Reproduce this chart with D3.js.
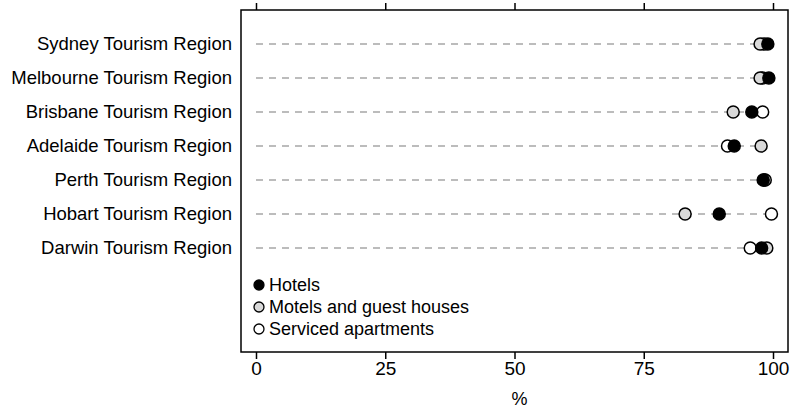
<!DOCTYPE html>
<html><head><meta charset="utf-8">
<script src="https://cdn.jsdelivr.net/npm/d3@7"></script>
<style>body{margin:0;background:#fff}svg{display:block}text{font-family:"Liberation Sans",Arial,sans-serif;fill:#000}</style>
</head><body><svg id="c" width="796" height="410"></svg>
<script>
const regions = ["Sydney Tourism Region","Melbourne Tourism Region","Brisbane Tourism Region","Adelaide Tourism Region","Perth Tourism Region","Hobart Tourism Region","Darwin Tourism Region"];
const hotels = [99.0, 99.2, 95.9, 92.5, 98.1, 89.6, 97.8];
const motels = [97.5, 97.5, 92.3, 97.7, 98.5, 83.0, 98.8];
const serviced = [98.3, 98.0, 98.0, 91.2, 98.3, 99.7, 95.6];
const xTicks = [0, 25, 50, 75, 100];
const seriesNames = ["Hotels","Motels and guest houses","Serviced apartments"];
const seriesFill = ["#000000","#d9d9d9","#ffffff"];

const svg = d3.select("#c");
const L = 241, R = 788, T = 10, B = 352;
const x = d3.scaleLinear().domain([-2.9, 102.9]).range([L, R]);
const y = d3.scalePoint().domain(regions).range([44, 248]);

// dashed guide lines
const maxv = regions.map((r,i)=>Math.max(hotels[i],motels[i],serviced[i]));
svg.append("g").selectAll("line").data(regions).join("line")
  .attr("x1", x(0)).attr("x2",(d,i)=>x(maxv[i]))
  .attr("y1", d=>y(d)).attr("y2", d=>y(d))
  .attr("stroke","#a6a6a6").attr("stroke-width",1.5).attr("stroke-dasharray","7,6");

// frame
svg.append("rect").attr("x",L).attr("y",T).attr("width",R-L).attr("height",B-T)
  .attr("fill","none").attr("stroke","#000").attr("stroke-width",1.5);

// bottom axis
const ax = svg.append("g").attr("transform",`translate(0,${B})`)
  .call(d3.axisBottom(x).tickValues(xTicks).tickSize(7).tickPadding(3));
ax.select(".domain").remove();
ax.selectAll("line").attr("stroke-width",1.5);
ax.selectAll("text").style("font-size","19px");
// top ticks
const at = svg.append("g").attr("transform",`translate(0,${T})`)
  .call(d3.axisTop(x).tickValues(xTicks).tickSize(7).tickFormat(""));
at.select(".domain").remove();
at.selectAll("line").attr("stroke-width",1.5);

svg.append("text").attr("x",x(50)+5).attr("y",405).attr("text-anchor","middle")
  .style("font-size","18px").text("%");

// y labels
svg.append("g").selectAll("text").data(regions).join("text")
  .attr("x",232).attr("y",d=>y(d)).attr("dy","0.35em").attr("text-anchor","end")
  .style("font-size","18.5px").text(d=>d);

// points: draw serviced, motels, hotels
const allSeries = [hotels, motels, serviced];
[2,1,0].forEach(s=>{
  svg.append("g").selectAll("circle").data(regions).join("circle")
    .attr("cx",(d,i)=>x(allSeries[s][i])).attr("cy",d=>y(d)).attr("r",6)
    .attr("fill",seriesFill[s]).attr("stroke","#000").attr("stroke-width",1.5);
});

// legend
const lg = svg.append("g").selectAll("g").data(seriesNames).join("g")
  .attr("transform",(d,i)=>`translate(${x(0)+3},${285+i*22})`);
lg.append("circle").attr("r",5).attr("fill",(d,i)=>seriesFill[i]).attr("stroke","#000").attr("stroke-width",1.3);
lg.append("text").attr("x",10).attr("dy","0.35em").style("font-size","18px").text(d=>d);
</script></body></html>
